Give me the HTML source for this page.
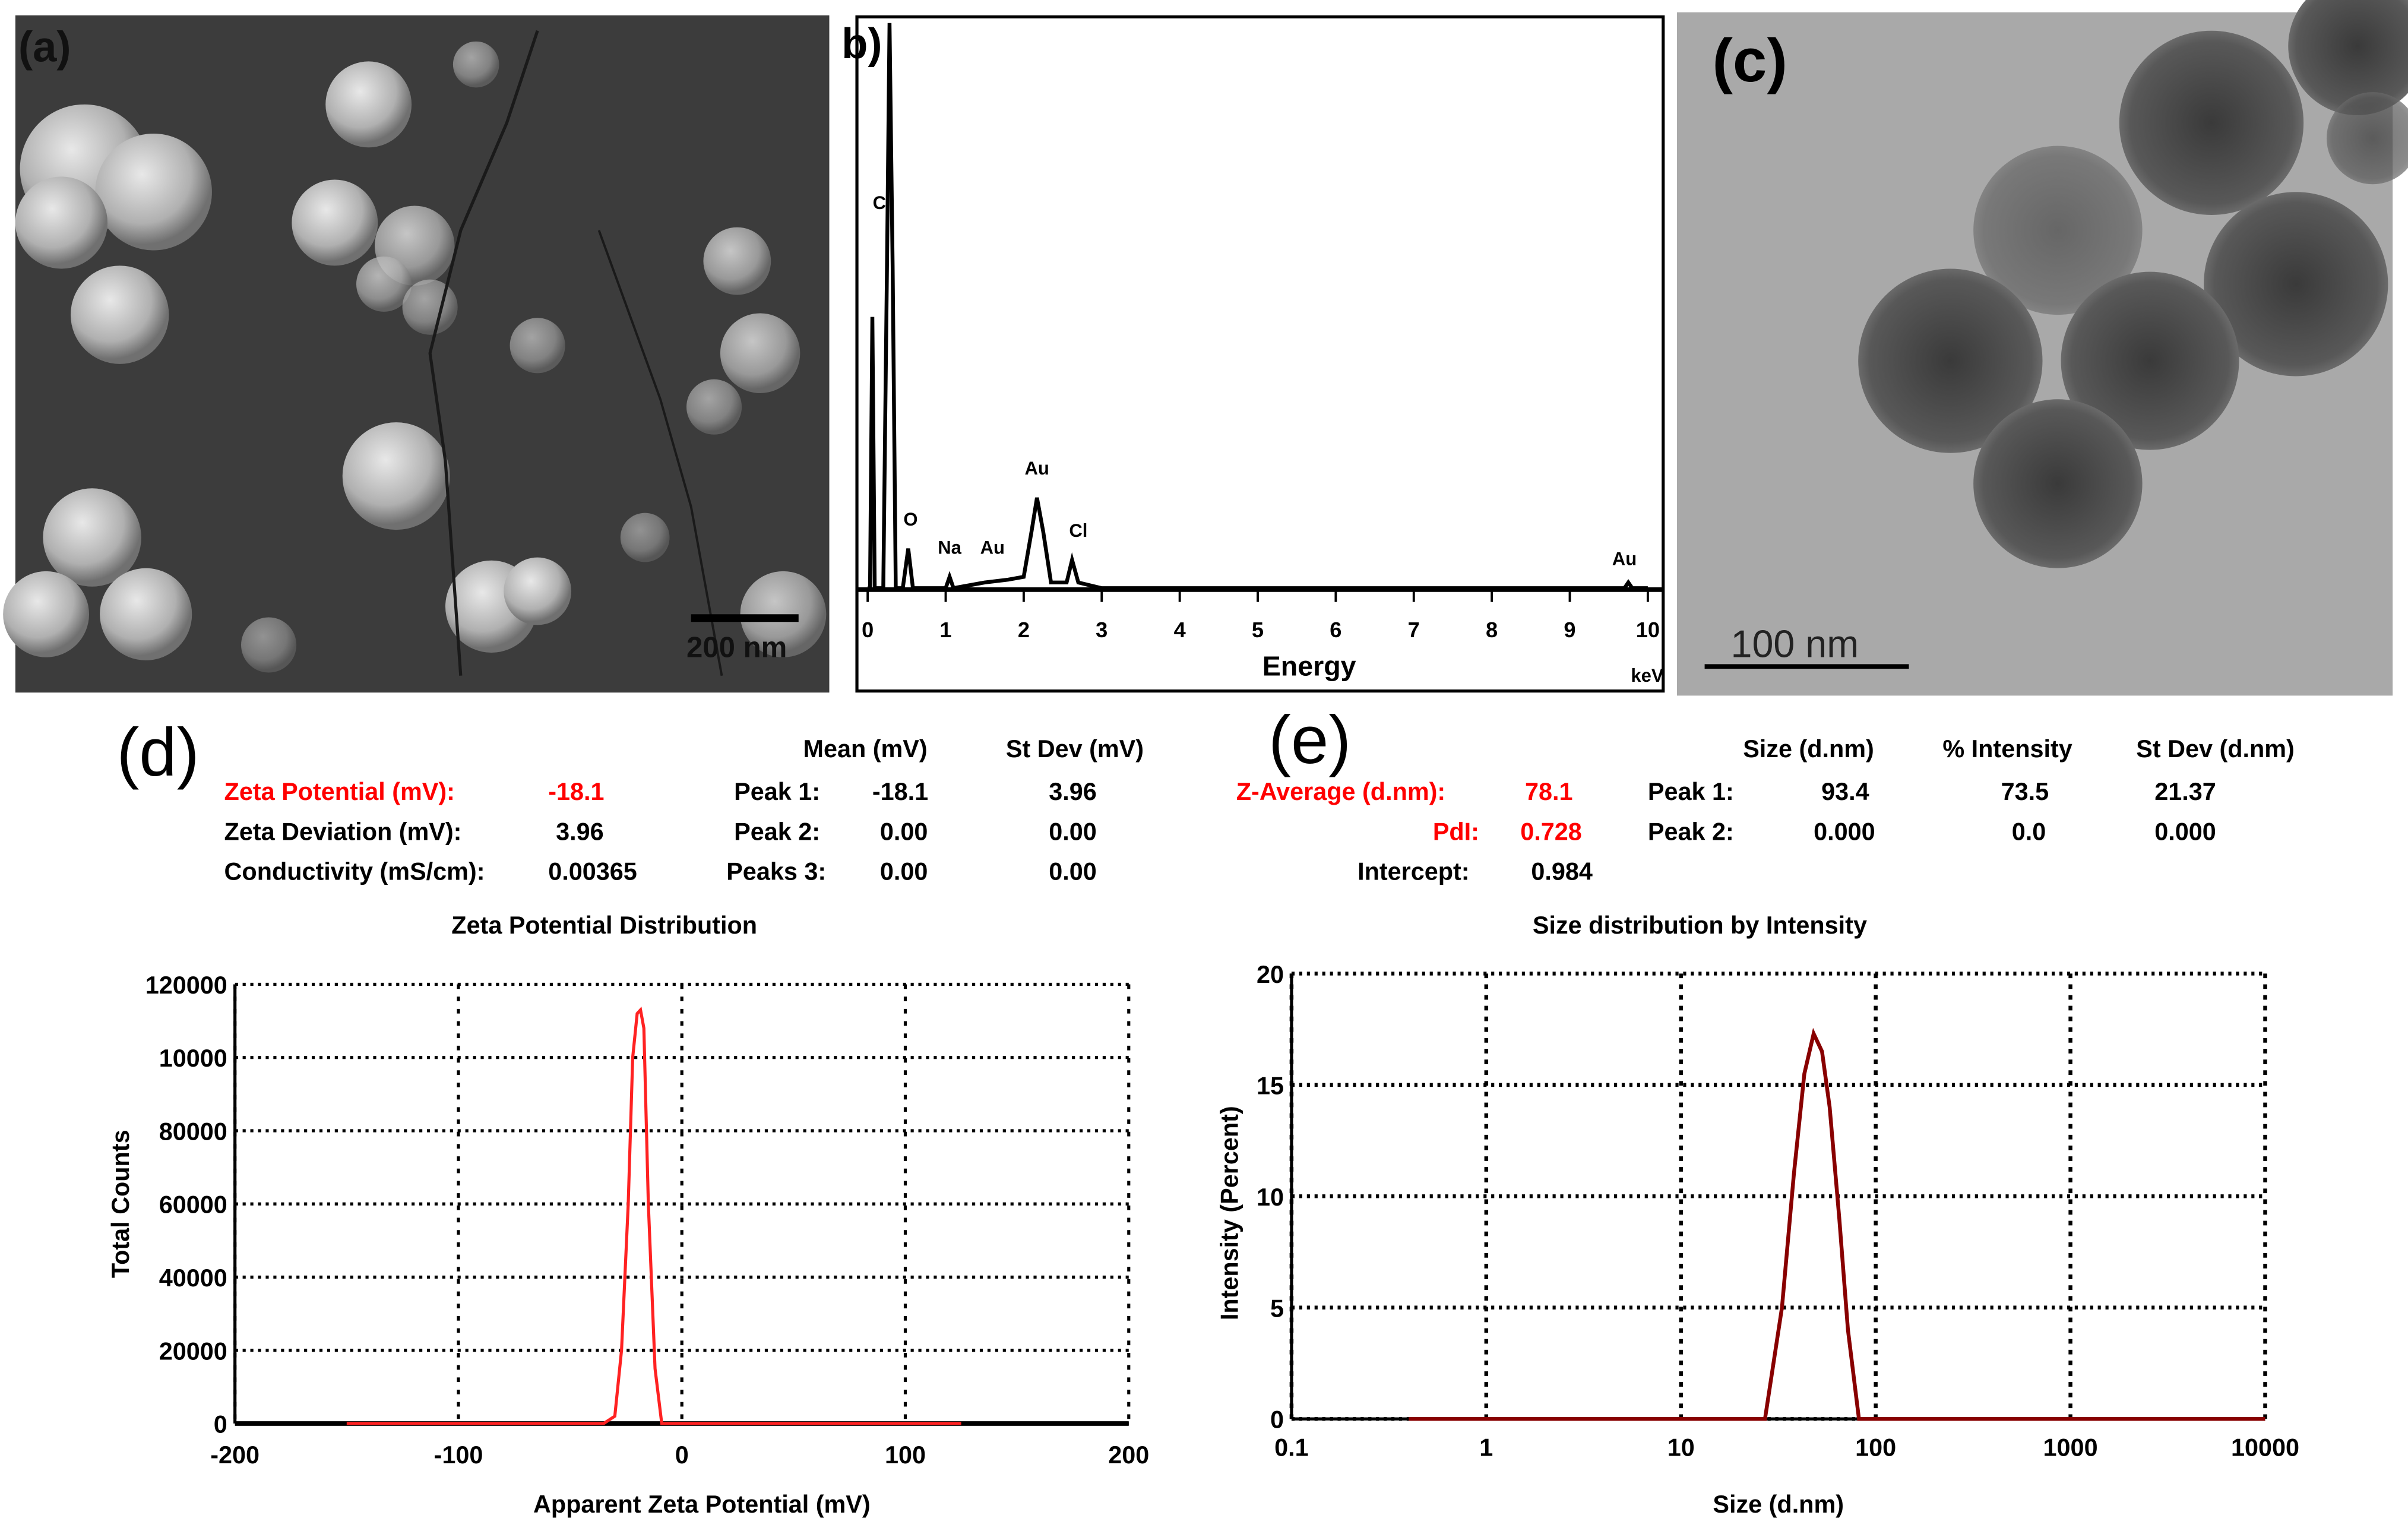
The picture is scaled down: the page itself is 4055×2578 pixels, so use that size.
<!DOCTYPE html>
<html><head><meta charset="utf-8"><style>
html,body{margin:0;padding:0;background:#fff;}
svg{display:block;}
text{font-family:"Liberation Sans",sans-serif;font-weight:bold;}
</style></head>
<body>
<svg id="fig" width="4055" height="2578" viewBox="0 0 1568 997" preserveAspectRatio="none" xmlns="http://www.w3.org/2000/svg">
<defs>
<radialGradient id="blob" cx="40%" cy="35%" r="60%"><stop offset="0" stop-color="#e8e8e8"/><stop offset="0.7" stop-color="#b0b0b0"/><stop offset="1" stop-color="#707070"/></radialGradient>
<radialGradient id="dark" cx="50%" cy="50%" r="55%"><stop offset="0" stop-color="#3a3a3a"/><stop offset="0.8" stop-color="#585858"/><stop offset="1" stop-color="#7a7a7a"/></radialGradient>
</defs>
<!-- Panel a SEM -->
<g>
<rect x="10" y="10" width="530" height="441" fill="#3c3c3c"/>
<circle cx="240" cy="68" r="28" fill="url(#blob)"/><circle cx="310" cy="42" r="15" fill="url(#blob)" opacity="0.6"/>
<circle cx="55" cy="110" r="42" fill="url(#blob)"/><circle cx="100" cy="125" r="38" fill="url(#blob)"/><circle cx="40" cy="145" r="30" fill="url(#blob)"/>
<circle cx="78" cy="205" r="32" fill="url(#blob)"/><circle cx="218" cy="145" r="28" fill="url(#blob)"/><circle cx="270" cy="160" r="26" fill="url(#blob)" opacity="0.8"/>
<circle cx="250" cy="185" r="18" fill="url(#blob)" opacity="0.7"/><circle cx="280" cy="200" r="18" fill="url(#blob)" opacity="0.6"/>
<circle cx="258" cy="310" r="35" fill="url(#blob)"/><circle cx="350" cy="225" r="18" fill="url(#blob)" opacity="0.6"/>
<circle cx="480" cy="170" r="22" fill="url(#blob)" opacity="0.8"/><circle cx="495" cy="230" r="26" fill="url(#blob)" opacity="0.8"/><circle cx="465" cy="265" r="18" fill="url(#blob)" opacity="0.6"/>
<circle cx="60" cy="350" r="32" fill="url(#blob)"/><circle cx="30" cy="400" r="28" fill="url(#blob)"/><circle cx="95" cy="400" r="30" fill="url(#blob)"/>
<circle cx="320" cy="395" r="30" fill="url(#blob)"/><circle cx="350" cy="385" r="22" fill="url(#blob)"/><circle cx="510" cy="400" r="28" fill="url(#blob)" opacity="0.8"/>
<circle cx="175" cy="420" r="18" fill="url(#blob)" opacity="0.5"/><circle cx="420" cy="350" r="16" fill="url(#blob)" opacity="0.5"/>
<path d="M350 20 L330 80 L300 150 L280 230 L290 300 L300 440" stroke="#1a1a1a" stroke-width="2" fill="none"/>
<path d="M390 150 L430 260 L450 330 L470 440" stroke="#1a1a1a" stroke-width="1.5" fill="none"/>
<rect x="450" y="400" width="70" height="5" fill="#000"/>
<text x="447" y="428" font-size="19" fill="#111">200 nm</text>
<text x="12" y="40" font-size="28" fill="#111">(a)</text>
</g>
<!-- Panel b EDS -->
<g id="eds">
<rect x="558" y="11" width="525" height="439" fill="#fff" stroke="#000" stroke-width="2"/>
<line x1="558" y1="384" x2="1083" y2="384" stroke="#000" stroke-width="3"/>
<text x="548" y="38" font-size="28" fill="#000">b)</text>
<text x="822" y="440" font-size="18" fill="#000">Energy</text>
<text x="1062" y="444" font-size="12" fill="#000">keV</text>
</g>
<!-- Panel c TEM -->
<g>
<rect x="1092" y="8" width="466" height="445" fill="#a9a9a9"/>
<circle cx="1535" cy="30" r="45" fill="url(#dark)"/><circle cx="1440" cy="80" r="60" fill="url(#dark)"/>
<circle cx="1340" cy="150" r="55" fill="url(#dark)" opacity="0.6"/><circle cx="1270" cy="235" r="60" fill="url(#dark)"/>
<circle cx="1495" cy="185" r="60" fill="url(#dark)"/><circle cx="1400" cy="235" r="58" fill="url(#dark)"/>
<circle cx="1340" cy="315" r="55" fill="url(#dark)"/><circle cx="1545" cy="90" r="30" fill="url(#dark)" opacity="0.7"/>
<text x="1115" y="53" font-size="40" font-weight="normal" fill="#000">(c)</text>
<line x1="1110" y1="434" x2="1243" y2="434" stroke="#000" stroke-width="3"/>
<text x="1127" y="428" font-size="25" style="font-weight:normal" fill="#222">100 nm</text>
</g>
<!-- Tables -->
<g font-size="16">
<text x="76" y="505" font-size="44" style="font-weight:normal">(d)</text>
<text x="523" y="493">Mean (mV)</text><text x="655" y="493">St Dev (mV)</text>
<text x="146" y="521" fill="#f00">Zeta Potential (mV):</text><text x="357" y="521" fill="#f00">-18.1</text>
<text x="478" y="521">Peak 1:</text><text x="568" y="521">-18.1</text><text x="683" y="521">3.96</text>
<text x="146" y="547">Zeta Deviation (mV):</text><text x="362" y="547">3.96</text>
<text x="478" y="547">Peak 2:</text><text x="573" y="547">0.00</text><text x="683" y="547">0.00</text>
<text x="146" y="573">Conductivity (mS/cm):</text><text x="357" y="573">0.00365</text>
<text x="473" y="573">Peaks 3:</text><text x="573" y="573">0.00</text><text x="683" y="573">0.00</text>
<text x="294" y="608">Zeta Potential Distribution</text>
</g>
<g font-size="16">
<text x="826" y="497" font-size="44" style="font-weight:normal">(e)</text>
<text x="1135" y="493">Size (d.nm)</text><text x="1265" y="493">% Intensity</text><text x="1391" y="493">St Dev (d.nm)</text>
<text x="805" y="521" fill="#f00">Z-Average (d.nm):</text><text x="993" y="521" fill="#f00">78.1</text>
<text x="1073" y="521">Peak 1:</text><text x="1186" y="521">93.4</text><text x="1303" y="521">73.5</text><text x="1403" y="521">21.37</text>
<text x="933" y="547" fill="#f00">PdI:</text><text x="990" y="547" fill="#f00">0.728</text>
<text x="1073" y="547">Peak 2:</text><text x="1181" y="547">0.000</text><text x="1310" y="547">0.0</text><text x="1403" y="547">0.000</text>
<text x="884" y="573">Intercept:</text><text x="997" y="573">0.984</text>
<text x="998" y="608">Size distribution by Intensity</text>
</g>
<g id="zeta"></g>
<g id="size"></g>
</svg>
<script>
const NS="http://www.w3.org/2000/svg";
// EDS data
const edsEnergy=[0,0.03,0.06,0.09,0.2,0.25,0.28,0.32,0.36,0.45,0.52,0.58,1.0,1.05,1.1,1.5,1.8,2.0,2.1,2.17,2.25,2.35,2.55,2.62,2.7,3,9.7,9.75,9.8,10];
const edsCounts=[0,0,48,0,0,60,100,57,0,0,7,0,0,2,0,1,1.5,2,10,16,10,1,1,5,1,0,0,1,0,0];
const edsTicks=[0,1,2,3,4,5,6,7,8,9,10];
const edsLabels=[{t:"C",e:0.15,c:66},{t:"O",e:0.55,c:10},{t:"Na",e:1.05,c:5},{t:"Au",e:1.6,c:5},{t:"Au",e:2.17,c:19},{t:"Cl",e:2.7,c:8},{t:"Au",e:9.7,c:3}];
// Zeta data
const zetaX=[-150,-35,-30,-27,-24,-22,-20,-18.5,-17,-15,-12,-9,125];
const zetaY=[0,0,2000,20000,60000,100000,112000,113000,108000,60000,15000,0,0];
const zetaXTicks=[-200,-100,0,100,200];
const zetaYTicks=[0,20000,40000,60000,80000,100000,120000];
const zetaYLabels=["0","20000","40000","60000","80000","10000","120000"];
// Size data
const sizeX=[0.4,27,33,38,43,48,53,58,65,72,82,10000];
const sizeY=[0,0,5,11,15.5,17.3,16.5,14,9,4,0,0];
const sizeXTicks=[0.1,1,10,100,1000,10000];
const sizeYTicks=[0,5,10,15,20];

function el(tag,attrs,parent,txt){const e=document.createElementNS(NS,tag);for(const k in attrs)e.setAttribute(k,attrs[k]);if(txt!==undefined)e.textContent=txt;parent.appendChild(e);return e;}

// EDS
(function(){
 const g=document.getElementById('eds');
 const X=e=>565+e*50.8, Y=c=>383-c*3.68;
 let d=edsEnergy.map((e,i)=>(i?'L':'M')+X(e)+' '+Y(edsCounts[i])).join(' ');
 const p=el('path',{d:d,fill:'none',stroke:'#000','stroke-width':2.5},g);
 
 
 edsTicks.forEach(t=>{
  el('line',{x1:X(t),y1:384,x2:X(t),y2:392,stroke:'#000','stroke-width':1.5},g);
  const tx=el('text',{x:X(t),y:415,'font-size':14,'text-anchor':'middle'},g,String(t));
  
  
 });
 edsLabels.forEach(l=>{
  const tx=el('text',{x:X(l.e),y:Y(l.c)-4,'font-size':12,'text-anchor':'middle'},g,l.t);
  
  
 });
})();

// Zeta chart
(function(){
 const g=document.getElementById('zeta');
 const x0=153,x1=735,y0=927,y1=641;
 const X=v=>x0+(v+200)/400*(x1-x0), Y=v=>y0-v/120000*(y0-y1);
 zetaYTicks.forEach((t,i)=>{
  el('line',{x1:x0,y1:Y(t),x2:x1,y2:Y(t),stroke:'#000','stroke-width':2,'stroke-dasharray':'2 3'},g);
  const tx=el('text',{x:x0-5,y:Y(t)+6,'font-size':16,'text-anchor':'end'},g,zetaYLabels[i]);
  
  
 });
 zetaXTicks.forEach(t=>{
  el('line',{x1:X(t),y1:y1,x2:X(t),y2:y0,stroke:'#000','stroke-width':2,'stroke-dasharray':'3 5'},g);
  const tx=el('text',{x:X(t),y:y0+26,'font-size':16,'text-anchor':'middle'},g,String(t));
  
  
 });
 el('line',{x1:x0,y1:y1,x2:x0,y2:y0,stroke:'#000','stroke-width':2},g);
 el('line',{x1:x0,y1:y0,x2:x1,y2:y0,stroke:'#000','stroke-width':3},g);
 let d=zetaX.map((v,i)=>(i?'L':'M')+X(v)+' '+Y(zetaY[i])).join(' ');
 const p=el('path',{d:d,fill:'none',stroke:'#f22','stroke-width':2},g);
 
 
 const yt=el('text',{x:84,y:(y0+y1)/2,'font-size':16,'text-anchor':'middle',transform:'rotate(-90 84 '+((y0+y1)/2)+')'},g,'Total Counts');
 
 
 const xt=el('text',{x:457,y:985,'font-size':16,'text-anchor':'middle'},g,'Apparent Zeta Potential (mV)');
 
 
})();

// Size chart
(function(){
 const g=document.getElementById('size');
 const x0=841,x1=1475,y0=924,y1=634;
 const X=v=>x0+(Math.log10(v)+1)/5*(x1-x0), Y=v=>y0-v/20*(y0-y1);
 sizeYTicks.forEach(t=>{
  el('line',{x1:x0,y1:Y(t),x2:x1,y2:Y(t),stroke:'#000','stroke-width':2.5,'stroke-dasharray':'2 3'},g);
  const tx=el('text',{x:x0-5,y:Y(t)+6,'font-size':16,'text-anchor':'end'},g,String(t));
  
  
 });
 sizeXTicks.forEach(t=>{
  el('line',{x1:X(t),y1:y1,x2:X(t),y2:y0,stroke:'#000','stroke-width':2.5,'stroke-dasharray':'3 4'},g);
  const tx=el('text',{x:X(t),y:y0+24,'font-size':16,'text-anchor':'middle'},g,String(t));
  
  
 });
 el('line',{x1:x0,y1:y1,x2:x0,y2:y0,stroke:'#000','stroke-width':2},g);
 el('line',{x1:x0,y1:y0,x2:x1,y2:y0,stroke:'#000','stroke-width':2},g);
 let d=sizeX.map((v,i)=>(i?'L':'M')+X(v)+' '+Y(sizeY[i])).join(' ');
 const p=el('path',{d:d,fill:'none',stroke:'#800','stroke-width':2.5},g);
 
 
 const yt=el('text',{x:806,y:790,'font-size':16,'text-anchor':'middle',transform:'rotate(-90 806 790)'},g,'Intensity (Percent)');
 
 
 const xt=el('text',{x:1158,y:985,'font-size':16,'text-anchor':'middle'},g,'Size (d.nm)');
 
 
})();
</script>
</body></html>
